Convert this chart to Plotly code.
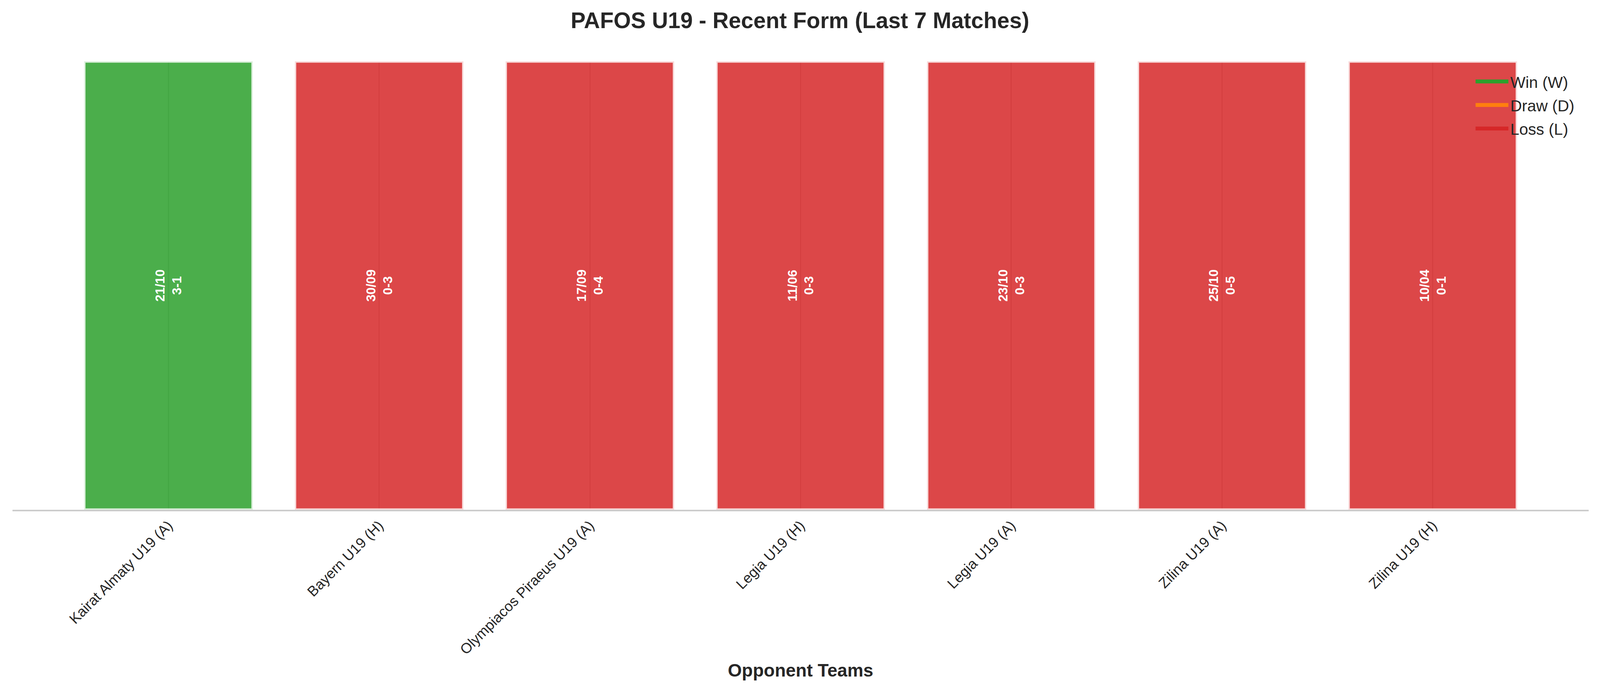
import plotly.graph_objects as go

opponents = [
    "Kairat Almaty U19 (A)",
    "Bayern U19 (H)",
    "Olympiacos Piraeus U19 (A)",
    "Legia U19 (H)",
    "Legia U19 (A)",
    "Zilina U19 (A)",
    "Zilina U19 (H)",
]
dates = ["21/10", "30/09", "17/09", "11/06", "23/10", "25/10", "10/04"]
scores = ["3-1", "0-3", "0-4", "0-3", "0-3", "0-5", "0-1"]
results = ["W", "L", "L", "L", "L", "L", "L"]
bar_height = [1, 1, 1, 1, 1, 1, 1]

result_names = {"W": "Win (W)", "D": "Draw (D)", "L": "Loss (L)"}
result_rgb = {"W": (44, 160, 44), "D": (255, 127, 14), "L": (214, 39, 40)}

FONT = "Liberation Sans, Arial, sans-serif"
TXT = "#262626"

fig = go.Figure()

# the matches themselves, all bars in one trace
fig.add_trace(
    go.Bar(
        x=opponents,
        y=bar_height,
        width=0.8,
        text=[f"{d}<br>{s}" for d, s in zip(dates, scores)],
        textposition="inside",
        insidetextanchor="middle",
        textangle=-90,
        constraintext="none",
        textfont=dict(family=FONT, size=33, color="white", weight="bold"),
        marker=dict(
            color=["rgba(%d,%d,%d,0.85)" % result_rgb[r] for r in results],
            line=dict(color="rgba(255,255,255,0.8)", width=7),
        ),
        showlegend=False,
        hoverinfo="skip",
    )
)

# legend-only entries (one per possible result)
for key in ["W", "D", "L"]:
    fig.add_trace(
        go.Scatter(
            x=[None],
            y=[None],
            mode="lines",
            name=result_names[key],
            legendgroup=key,
            line=dict(color="rgb(%d,%d,%d)" % result_rgb[key], width=29),
        )
    )

fig.update_layout(
    height=1769,
    autosize=True,
    paper_bgcolor="white",
    plot_bgcolor="white",
    margin=dict(l=32, r=29, t=157, b=464),
    font=dict(family=FONT, color=TXT),
    title=dict(
        text="<b>PAFOS U19 - Recent Form (Last 7 Matches)</b>",
        x=0.5,
        xanchor="center",
        y=1 - 52 / 1769,
        yanchor="middle",
        font=dict(size=57, color=TXT),
    ),
    bargap=0.2,
    legend=dict(
        x=0.927,
        xanchor="left",
        y=0.984,
        yanchor="top",
        bgcolor="rgba(0,0,0,0)",
        font=dict(size=41, color=TXT),
        itemwidth=84,
        tracegroupgap=4,
    ),
)

fig.update_xaxes(
    type="category",
    categoryorder="array",
    categoryarray=opponents,
    range=[-0.74, 6.74],
    tickangle=-45,
    tickfont=dict(size=37, color=TXT),
    showgrid=True,
    gridcolor="#cccccc",
    gridwidth=3,
    showline=True,
    linecolor="#cccccc",
    linewidth=4,
    ticks="",
    zeroline=False,
    title=dict(
        text="<b>Opponent Teams</b>",
        font=dict(size=46, color=TXT),
        standoff=18,
    ),
)
fig.update_yaxes(
    range=[0, 1],
    showticklabels=False,
    showgrid=False,
    zeroline=False,
    showline=False,
    ticks="",
)

# fill the window width, with no page margin around the figure
fig.write_html(
    "out.html",
    config={"displayModeBar": False},
    default_width="100%",
    default_height="1769px",
    post_script="document.body.style.margin='0';"
    "document.documentElement.style.overflow='hidden';"
    "Plotly.Plots.resize(document.getElementById('{plot_id}'));",
)
